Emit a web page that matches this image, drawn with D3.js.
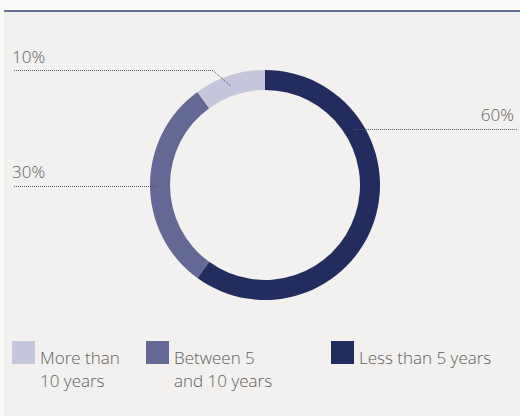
<!DOCTYPE html>
<html>
<head>
<meta charset="utf-8">
<script src="https://cdn.jsdelivr.net/npm/d3@7"></script>
<style>
  html, body { margin: 0; padding: 0; background: #f9f9f7; }
  svg { display: block; }
  text { font-family: "Open Sans", "Segoe UI", sans-serif; font-weight: 300; fill: #606060; }
</style>
</head>
<body>
<svg id="chart" width="520" height="416"></svg>
<script>
// Data
const categories = ["Less than 5 years", "Between 5 and 10 years", "More than 10 years"];
const values = [60, 30, 10];
const colors = ["#222c5f", "#646894", "#c5c6dc"];
const legendOrder = [2, 1, 0];
const legendLines = [["Less than 5 years"], ["Between 5", "and 10 years"], ["More than", "10 years"]];

const width = 520, height = 416;
const fs = 17;
const svg = d3.select("#chart");

// panel + top rule
svg.append("rect").attr("x", 4).attr("y", 10).attr("width", width - 4).attr("height", height - 10)
    .attr("fill", "#f2f1ef");
svg.append("rect").attr("x", 4).attr("y", 10).attr("width", width - 4).attr("height", 2)
    .attr("fill", "#67719a");

const cx = 265, cy = 185, rOut = 115, rIn = 95, rMid = (rOut + rIn) / 2;

const pie = d3.pie().sort(null).value(d => d);
const arcs = pie(values);
const arc = d3.arc().innerRadius(rIn).outerRadius(rOut);

const g = svg.append("g").attr("transform", `translate(${cx},${cy})`);
g.selectAll("path").data(arcs).enter().append("path")
    .attr("d", arc)
    .attr("fill", (d, i) => colors[i]);

// leader lines and labels
const pt = (a, r) => [cx + r * Math.sin(a), cy - r * Math.cos(a)];
const lines = svg.append("g").attr("fill", "none").attr("stroke", "#555")
    .attr("stroke-width", 1).attr("stroke-dasharray", "1,1");
const pct = d => d.data + "%";

// 60%: horizontal line hitting ring mid at y=129
{
    const a = Math.acos((cy - 129) / rMid);
    const p = pt(a, rMid);
    lines.append("path").attr("d", d3.line()([[p[0], 129.5], [518, 129.5]]));
    svg.append("text").attr("x", 514).attr("y", 121).attr("text-anchor", "end")
        .attr("font-size", fs).text(pct(arcs[0]));
}
// 30%: to slice centroid
{
    const a = (arcs[1].startAngle + arcs[1].endAngle) / 2;
    const p = pt(a, rMid + 2);
    lines.append("path").attr("d", d3.line()([[14, 186.5], [p[0], 186.5]]));
    svg.append("text").attr("x", 12).attr("y", 178).attr("font-size", fs).text(pct(arcs[1]));
}
// 10%: elbow to slice centroid
{
    const a = (arcs[2].startAngle + arcs[2].endAngle) / 2;
    const p = pt(a, rMid - 1);
    lines.append("path").attr("d", d3.line()([[14, 70.5], [213, 70.5], [p[0] - 2, p[1]]]));
    svg.append("text").attr("x", 12).attr("y", 63).attr("font-size", fs).text(pct(arcs[2]));
}

// legend
const legendX = [12, 146, 331];
legendOrder.forEach((idx, k) => {
    const lg = svg.append("g").attr("transform", `translate(${legendX[k]},341)`);
    lg.append("rect").attr("width", 23).attr("height", 23).attr("fill", colors[idx]);
    const t = lg.append("text").attr("x", 28).attr("y", 23).attr("font-size", fs);
    legendLines[idx].forEach((s, j) => {
        t.append("tspan").attr("x", 28).attr("dy", j === 0 ? 0 : 23).text(s);
    });
});
</script>
</body>
</html>
